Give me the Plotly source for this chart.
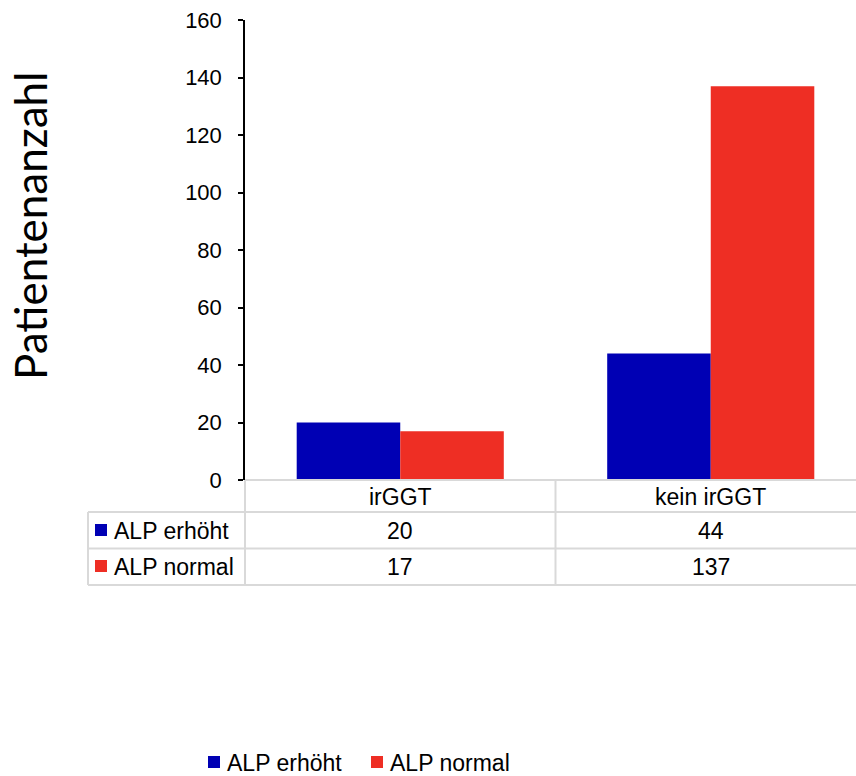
import plotly.graph_objects as go

categories = ["irGGT", "kein irGGT"]
series_names = ["ALP erhöht", "ALP normal"]
alp_erhoeht = [20, 44]
alp_normal = [17, 137]
y_ticks = [0, 20, 40, 60, 80, 100, 120, 140, 160]
y_title = "Patientenanzahl"

colors = ["#0000B4", "#EE2E24"]
series_values = [alp_erhoeht, alp_normal]

W, H = 856, 776
L, R, T, B = 245, 0, 20, 296
PW = W - L - R
PH = H - T - B

def xp(px):
    return (px - L) / PW

def yp(py):
    return (T + PH - py) / PH

fig = go.Figure()
for name, vals, col in zip(series_names, series_values, colors):
    fig.add_trace(go.Bar(x=list(range(len(categories))), y=vals, name=name, showlegend=False,
                         marker=dict(color=col, line=dict(width=0))))

font = "Liberation Sans, Arial, sans-serif"
FS = 23
grid = "#D9D9D9"
shapes = []
annotations = []

def text(x, y, s, xref="paper", xanchor="center"):
    annotations.append(dict(x=x, y=y, xref=xref, yref="paper", text=s, showarrow=False,
                            xanchor=xanchor, yanchor="middle",
                            font=dict(family=font, size=FS, color="black")))

# table lines
shapes.append(dict(type="line", xref="paper", yref="paper", x0=0, x1=1, y0=yp(480), y1=yp(480),
                   line=dict(color=grid, width=2)))
for py in [512, 548.5, 585]:
    shapes.append(dict(type="line", xref="paper", yref="paper", x0=xp(88), x1=1, y0=yp(py), y1=yp(py),
                       line=dict(color=grid, width=2)))
shapes.append(dict(type="line", xref="paper", yref="paper", x0=xp(88), x1=xp(88), y0=yp(512), y1=yp(585),
                   line=dict(color=grid, width=2)))
shapes.append(dict(type="line", xref="paper", yref="paper", x0=0, x1=0, y0=yp(480), y1=yp(585),
                   line=dict(color=grid, width=2)))
for i in range(len(categories) - 1):
    shapes.append(dict(type="line", xref="x", yref="paper", x0=i + 0.5, x1=i + 0.5, y0=yp(480), y1=yp(585),
                       line=dict(color=grid, width=2)))

# header and values
for i, c in enumerate(categories):
    text(i, yp(497), c, xref="x")
row_centers = [531, 567]
for r, (name, vals, col) in enumerate(zip(series_names, series_values, colors)):
    cy = row_centers[r]
    for i, v in enumerate(vals):
        text(i, yp(cy), str(v), xref="x")
    text(xp(112), yp(cy), name, xanchor="left")
    shapes.append(dict(type="rect", xref="paper", yref="paper", x0=xp(95), x1=xp(107),
                       y0=yp(cy - 7), y1=yp(cy + 5), fillcolor=col, line=dict(width=0)))

# manual legend
leg_x = [208, 371]
leg_cy = 763
for name, col, lx in zip(series_names, colors, leg_x):
    shapes.append(dict(type="rect", xref="paper", yref="paper", x0=xp(lx), x1=xp(lx + 12),
                       y0=yp(leg_cy + 5), y1=yp(leg_cy - 7), fillcolor=col, line=dict(width=0)))
    text(xp(lx + 17), yp(leg_cy), name, xanchor="left")

# y-axis title
annotations.append(dict(x=xp(30), y=yp(226), xref="paper", yref="paper", text=y_title,
                        textangle=-90, showarrow=False, xanchor="center", yanchor="middle",
                        font=dict(family="Lato, Carlito, Calibri, sans-serif", size=44, color="black")))

fig.update_layout(
    width=W, height=H,
    margin=dict(l=L, r=R, t=T, b=B, pad=0),
    paper_bgcolor="white", plot_bgcolor="white",
    barmode="group", bargap=0.333, bargroupgap=0,
    showlegend=False,
    xaxis=dict(range=[-0.5, -0.5 + PW / 310.5], showticklabels=False, showgrid=False,
               zeroline=False, showline=False, ticks=""),
    yaxis=dict(range=[0, 160], tickvals=y_ticks, showgrid=False, zeroline=False,
               showline=True, linecolor="black", linewidth=1.5, ticks="outside", ticklen=5,
               tickcolor="black", tickwidth=1.5, ticklabelstandoff=12,
               tickfont=dict(family=font, size=22, color="black")),
    shapes=shapes, annotations=annotations,
)

fig.write_html("out.html", config={"displayModeBar": False},
               post_script="document.body.style.margin='0px';")
